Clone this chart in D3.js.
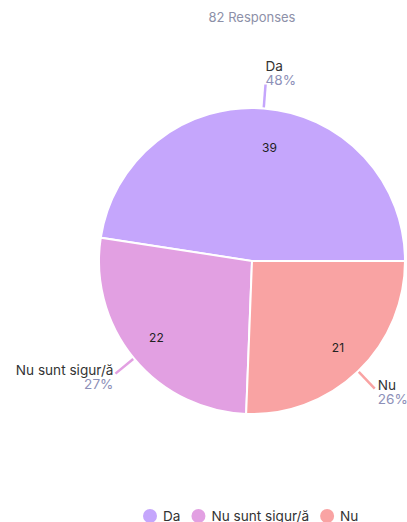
<!DOCTYPE html>
<html><head><meta charset="utf-8">
<script src="https://cdn.jsdelivr.net/npm/d3@7"></script>
<style>body{margin:0;background:#fff;font-family:Inter,"Noto Sans",sans-serif;}</style>
</head><body><svg id="c" width="407" height="522"></svg>
<script>
const categories = ["Da", "Nu sunt sigur/ă", "Nu"];
const values = [39, 22, 21];
const percents = ["48%", "27%", "26%"];
const colors = ["#c5a6fc", "#e2a0e2", "#f9a3a3"];
const drawOrder = ["Da", "Nu", "Nu sunt sigur/ă"];
const title = "82 Responses";

const svg = d3.select("#c");
const cx = 252, cy = 261, r = 153;
const color = d3.scaleOrdinal().domain(categories).range(colors);
const data = categories.map((c, i) => ({cat: c, value: values[i], pct: percents[i]}));
const total = d3.sum(values);
const daAngle = values[0] / total * 2 * Math.PI;
const pie = d3.pie().value(d => d.value)
  .sort((a, b) => drawOrder.indexOf(a.cat) - drawOrder.indexOf(b.cat))
  .startAngle(Math.PI / 2 - daAngle).endAngle(Math.PI / 2 - daAngle + 2 * Math.PI);
const arcs = pie(data);
const arc = d3.arc().innerRadius(0).outerRadius(r);
const g = svg.append("g").attr("transform", `translate(${cx},${cy})`);

svg.append("text").attr("x", 252).attr("y", 22).attr("text-anchor", "middle")
  .attr("font-size", 13).attr("fill", "#8d90a8").text(title);

g.selectAll("path.s").data(arcs).join("path").attr("class", "s")
  .attr("d", arc).attr("fill", d => color(d.data.cat))
  .attr("stroke", "#fff").attr("stroke-width", 2);

const inner = d3.arc().innerRadius(r * 0.81).outerRadius(r * 0.81);
g.selectAll("text.v").data(arcs).join("text").attr("class", "v")
  .attr("transform", d => { const c = inner.centroid(d); const isDa = d.data.cat === "Da"; return `translate(${c[0] + (isDa ? 8 : 0)},${c[1] + (isDa ? 10 : -2)})`; })
  .attr("text-anchor", "middle").attr("dy", "0.35em")
  .attr("font-size", 12).attr("fill", "#222").text(d => d.data.value);

// leader lines and labels
const leaderIn = d3.arc().innerRadius(r + 1).outerRadius(r + 1);
const leaderOut = d3.arc().innerRadius(r + 24).outerRadius(r + 24);
const fs = 13.6;
arcs.forEach(d => {
  const mid = (d.startAngle + d.endAngle) / 2;
  const p1 = leaderIn.centroid(d), p2 = leaderOut.centroid(d);
  g.append("line").attr("x1", p1[0]).attr("y1", p1[1]).attr("x2", p2[0]).attr("y2", p2[1])
    .attr("stroke", color(d.data.cat)).attr("stroke-width", 2.5);
  const s = Math.sin(mid);
  const anchor = s >= -0.3 ? "start" : "end";
  const tx = p2[0] + (anchor === "start" ? (Math.abs(s) < 0.3 ? 0 : 3) : -2);
  const ty = p2[1];
  let y1, y2;
  if (Math.cos(mid) > 0) { y1 = ty - 14; y2 = ty; } else { y1 = ty + 1; y2 = ty + 15; }
  g.append("text").attr("x", tx).attr("y", y1).attr("text-anchor", anchor)
    .attr("font-size", fs).attr("fill", "#333").text(d.data.cat);
  g.append("text").attr("x", tx).attr("y", y2).attr("text-anchor", anchor)
    .attr("font-size", fs).attr("fill", "#8d90b8").text(d.data.pct);
});

// legend
const legend = svg.append("g");
let lx = 150;
categories.forEach((c, i) => {
  legend.append("circle").attr("cx", lx).attr("cy", 516).attr("r", 7).attr("fill", colors[i]);
  const t = legend.append("text").attr("x", lx + 13).attr("y", 521).attr("font-size", fs)
    .attr("fill", "#333").text(c);
  lx += 13 + t.node().getComputedTextLength() + 18;
});
</script></body></html>
